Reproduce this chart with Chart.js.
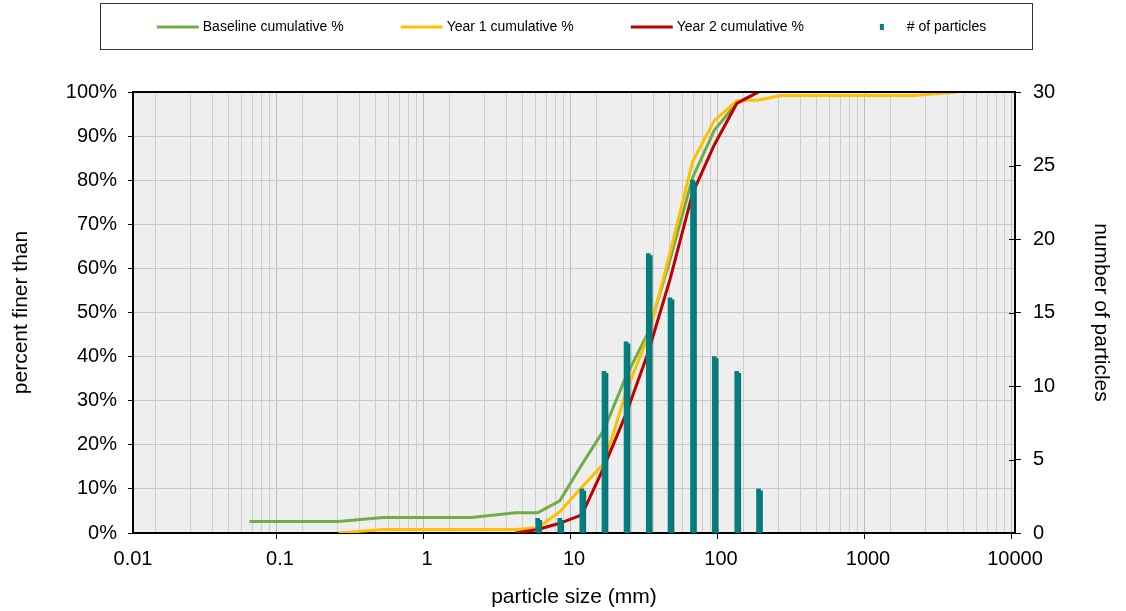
<!DOCTYPE html>
<html>
<head>
<meta charset="utf-8">
<script src="https://cdn.jsdelivr.net/npm/chart.js@4"></script>
<style>
  html, body { margin: 0; padding: 0; background: #fff; }
  canvas { display: block; }
</style>
</head>
<body>
<canvas id="psd" width="1126" height="611"></canvas>
<script>
// sieve sizes (mm) and cumulative % finer
const baselineSizes = [0.062, 0.125, 0.25, 0.5, 1, 2, 4, 5.66, 8, 11.3, 16, 22.6, 32, 45, 64, 90, 128, 180];
const baselinePct   = [2.6, 2.6, 2.6, 3.5, 3.5, 3.5, 4.6, 4.6, 7.3, 15.5, 23.4, 35.5, 45.5, 62, 80.5, 91.3, 97.5, 100];
const year1Sizes = [0.25, 0.5, 1, 2, 4, 5.66, 8, 11.3, 16, 22.6, 32, 45, 64, 90, 128, 180, 256, 512, 1024, 2048, 4096];
const year1Pct   = [0, 0.8, 0.8, 0.8, 0.8, 1.2, 4.8, 10.4, 15.8, 32, 44.7, 63.5, 84.2, 93.5, 98, 98.2, 99.2, 99.2, 99.2, 99.2, 100];
const year2Sizes = [4, 5.66, 8, 11.3, 16, 22.6, 32, 45, 64, 90, 128, 180];
const year2Pct   = [0, 0.8, 2.2, 4.1, 15, 27, 41, 57.5, 77, 88, 97.4, 100];

// number of particles per size class (right axis)
const countSizes = [5.66, 8, 11.3, 16, 22.6, 32, 45, 64, 90, 128, 180];
const counts     = [1, 1, 3, 11, 13, 19, 16, 24, 12, 11, 3];

const xTickLabels = ['0.01', '0.1', '1', '10', '100', '1000', '10000'];

const GREEN = '#70ad47', YELLOW = '#ffc000', RED = '#c00000', TEAL = '#008080';
const FONT = 'Liberation Sans, Arial, sans-serif';
Chart.defaults.font.family = FONT;
Chart.defaults.color = '#000';

const pts = (xs, ys) => xs.map((x, i) => ({ x: x, y: ys[i] }));
const isDecade = v => {
  const l = Math.log10(v);
  return Math.abs(l - Math.round(l)) < 1e-6;
};

// legend swatch, drawn centred on a 76px legend box; spills 4px each side
// so the line ends right before the label like Excel does
function swatch(color, kind) {
  const c = document.createElement('canvas');
  c.width = 84; c.height = 10;
  const g = c.getContext('2d');
  if (kind === 'line') {
    g.strokeStyle = color; g.lineWidth = 3;
    g.beginPath(); g.moveTo(41, 5); g.lineTo(83, 5); g.stroke();
  } else {
    g.fillStyle = color; g.fillRect(60, 2, 4, 6);
  }
  return c;
}

const frame = {
  id: 'frame',
  afterInit(chart) {
    // legend strip takes the whole band above the plot, row nudged left a bit
    const fit = chart.legend.fit;
    chart.legend.fit = function () {
      fit.call(this);
      this.height = 92;
      if (this.lineWidths && this.lineWidths.length) this.lineWidths[0] += 20;
    };
  },
  beforeDraw(chart) {
    const a = chart.chartArea, ctx = chart.ctx;
    ctx.save();
    ctx.fillStyle = '#eeeeee';
    ctx.fillRect(a.left, a.top, a.right - a.left, a.bottom - a.top);
    ctx.restore();
  },
  beforeDatasetDraw(chart, args) {
    if (args.meta.type === 'bar') {
      const ctx = chart.ctx;
      ctx.save();
      ctx.shadowColor = '#127070';
      ctx.shadowOffsetX = 2;
      ctx.shadowOffsetY = 2;
      ctx.shadowBlur = 0;
    }
  },
  afterDatasetDraw(chart, args) {
    if (args.meta.type === 'bar') chart.ctx.restore();
  },
  afterDraw(chart) {
    const a = chart.chartArea, ctx = chart.ctx;
    ctx.save();
    ctx.strokeStyle = '#000';
    ctx.lineWidth = 2;
    ctx.beginPath(); ctx.moveTo(a.left - 1, a.top); ctx.lineTo(a.right + 1, a.top); ctx.stroke();
    // right axis ticks cross the axis line
    const s = chart.scales.y1;
    ctx.lineWidth = 1;
    ctx.beginPath();
    s.ticks.forEach(t => {
      const y = Math.round(s.getPixelForValue(t.value)) + 0.5;
      ctx.moveTo(a.right - 6, y); ctx.lineTo(a.right, y);
    });
    ctx.stroke();
    ctx.strokeStyle = '#333';
    ctx.strokeRect(100.5, 3.5, 932, 46);
    ctx.restore();
  }
};

new Chart(document.getElementById('psd'), {
  type: 'line',
  data: {
    datasets: [
      { label: 'Baseline cumulative %', data: pts(baselineSizes, baselinePct), borderColor: GREEN,
        borderWidth: 3, pointRadius: 0, tension: 0, yAxisID: 'y', order: 3 },
      { label: 'Year 1 cumulative %', data: pts(year1Sizes, year1Pct), borderColor: YELLOW,
        borderWidth: 3, pointRadius: 0, tension: 0, yAxisID: 'y', order: 2 },
      { label: 'Year 2 cumulative %', data: pts(year2Sizes, year2Pct), borderColor: RED,
        borderWidth: 3, pointRadius: 0, tension: 0, yAxisID: 'y', order: 1 },
      { type: 'bar', label: '# of particles', data: pts(countSizes, counts), backgroundColor: TEAL,
        barThickness: 4, yAxisID: 'y1', order: 0 }
    ]
  },
  options: {
    responsive: false,
    animation: false,
    layout: { padding: 0 },
    plugins: {
      tooltip: { enabled: false },
      legend: {
        position: 'top',
        labels: {
          usePointStyle: true,
          pointStyleWidth: 76,
          padding: 20,
          color: '#000',
          font: { size: 14, family: FONT },
          generateLabels(chart) {
            return chart.data.datasets.map((ds, i) => ({
              text: ds.label,
              pointStyle: swatch(ds.type === 'bar' ? ds.backgroundColor : ds.borderColor,
                                 ds.type === 'bar' ? 'square' : 'line'),
              fillStyle: 'transparent',
              strokeStyle: 'transparent',
              lineWidth: 0,
              hidden: false,
              fontColor: '#000',
              datasetIndex: i
            }));
          }
        }
      }
    },
    scales: {
      x: {
        type: 'logarithmic',
        min: 0.01,
        max: 10000,
        offset: false,
        afterFit(s) { s.height = 78; },
        afterBuildTicks(s) {
          // keep 1..9 x 10^n only (drop the 1.5 steps chart.js adds)
          s.ticks = s.ticks.filter(t => {
            const m = t.value / Math.pow(10, Math.floor(Math.log10(t.value) + 1e-9));
            return Math.abs(m - Math.round(m)) < 1e-6;
          });
        },
        border: { color: '#000', width: 2 },
        grid: {
          color: c => (c.tick && isDecade(c.tick.value)) ? '#bcbcbc' : '#cdcdcd',
          tickColor: c => (c.tick && isDecade(c.tick.value)) ? '#000' : 'rgba(0,0,0,0)',
          tickLength: 6
        },
        ticks: {
          autoSkip: false,
          maxRotation: 0,
          padding: 8,
          font: { size: 20 },
          callback: v => isDecade(v) ? (xTickLabels.find(l => Math.abs(Number(l) / v - 1) < 1e-6) || '') : ''
        },
        title: { display: true, text: 'particle size (mm)', font: { size: 21 }, padding: { top: 0, bottom: 1 } }
      },
      y: {
        position: 'left',
        min: 0,
        max: 100,
        afterFit(s) { s.width = 133; },
        border: { color: '#000', width: 2 },
        grid: { color: '#c8c8c8', tickColor: '#000', tickLength: 5 },
        ticks: { stepSize: 10, padding: 11, font: { size: 20 }, callback: v => v + '%' },
        title: { display: true, text: 'percent finer than', font: { size: 21 }, padding: { top: 9, bottom: 0 } }
      },
      y1: {
        position: 'right',
        min: 0,
        max: 30,
        afterFit(s) { s.width = 111; },
        border: { color: '#000', width: 2 },
        grid: { drawOnChartArea: false, tickColor: '#000', tickLength: 6 },
        ticks: { stepSize: 5, padding: 12, font: { size: 20 } },
        title: { display: true, text: 'number of particles', font: { size: 21 }, padding: { top: 13, bottom: 0 } }
      }
    }
  },
  plugins: [frame]
});
</script>
</body>
</html>
